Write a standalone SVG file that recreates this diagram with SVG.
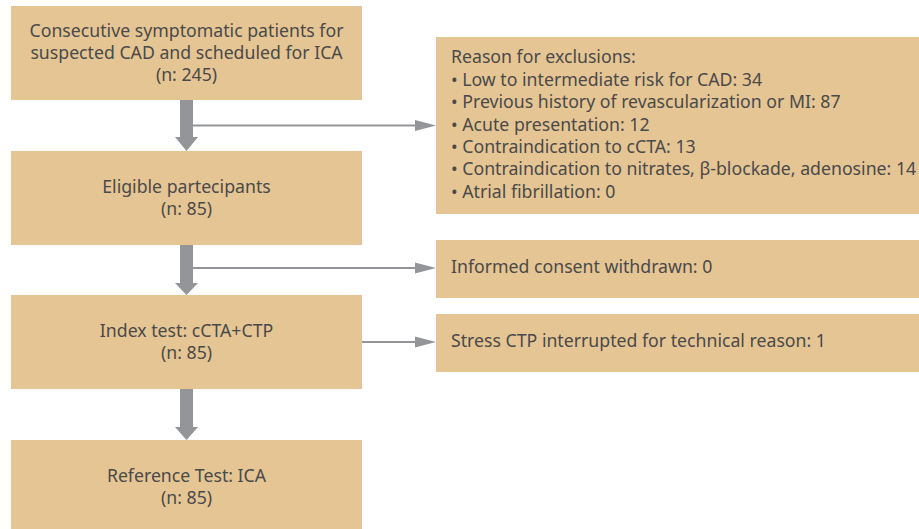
<svg xmlns="http://www.w3.org/2000/svg" width="919" height="529" viewBox="0 0 919 529">
<defs>
<style>
.box{fill:#E5C593;}
text{font-family:"Noto Sans","Liberation Sans",sans-serif;font-size:17.7px;fill:#4a4a4a;}
.c{text-anchor:middle;}
.thick{fill:#939598;}
.thin{stroke:#939598;stroke-width:2;fill:none;}
</style>
</defs>
<rect width="919" height="529" fill="#ffffff"/>
<g id="connectors">
<path class="thick" d="M180,100 H193 V137 H198 L186.5,151 L175,137 H180 Z"/>
<path class="thick" d="M180,245 H193 V283 H198 L186.5,295 L175,283 H180 Z"/>
<path class="thick" d="M180,389 H193 V427 H198 L186.5,440 L175,427 H180 Z"/>
<path d="M193,125.5 H415" class="thin"/>
<path d="M415,120 L436,125.5 L415,131 Z" class="thick"/>
<path d="M193,268 H415" class="thin"/>
<path d="M415,262.5 L436,268 L415,273.5 Z" class="thick"/>
<path d="M362,342 H415" class="thin"/>
<path d="M415,336.5 L436,342 L415,347.5 Z" class="thick"/>
</g>
<g id="n1">
<rect class="box" x="11" y="6" width="351" height="94"/>
<text class="c" x="186.5" y="37">Consecutive symptomatic patients for</text>
<text class="c" x="186.5" y="59">suspected CAD and scheduled for ICA</text>
<text class="c" x="186.5" y="81">(n: 245)</text>
</g>
<g id="n2">
<rect class="box" x="11" y="151" width="351" height="94"/>
<text class="c" x="186.5" y="193">Eligible partecipants</text>
<text class="c" x="186.5" y="215">(n: 85)</text>
</g>
<g id="n3">
<rect class="box" x="11" y="295" width="351" height="94"/>
<text class="c" x="186.5" y="337">Index test: cCTA+CTP</text>
<text class="c" x="186.5" y="359">(n: 85)</text>
</g>
<g id="n4">
<rect class="box" x="11" y="440" width="351" height="89"/>
<text class="c" x="186.5" y="482">Reference Test: ICA</text>
<text class="c" x="186.5" y="504">(n: 85)</text>
</g>
<g id="excl">
<rect class="box" x="436" y="37" width="483" height="177"/>
<text x="451" y="63">Reason for exclusions:</text>
<text x="451" y="86">• Low to intermediate risk for CAD: 34</text>
<text x="451" y="108">• Previous history of revascularization or MI: 87</text>
<text x="451" y="131">• Acute presentation: 12</text>
<text x="451" y="153">• Contraindication to cCTA: 13</text>
<text x="451" y="175">• Contraindication to nitrates, β-blockade, adenosine: 14</text>
<text x="451" y="198">• Atrial fibrillation: 0</text>
</g>
<g id="consent">
<rect class="box" x="436" y="240" width="483" height="58"/>
<text x="451" y="273">Informed consent withdrawn: 0</text>
</g>
<g id="stress">
<rect class="box" x="436" y="314" width="483" height="58"/>
<text x="451" y="347">Stress CTP interrupted for technical reason: 1</text>
</g>
</svg>
